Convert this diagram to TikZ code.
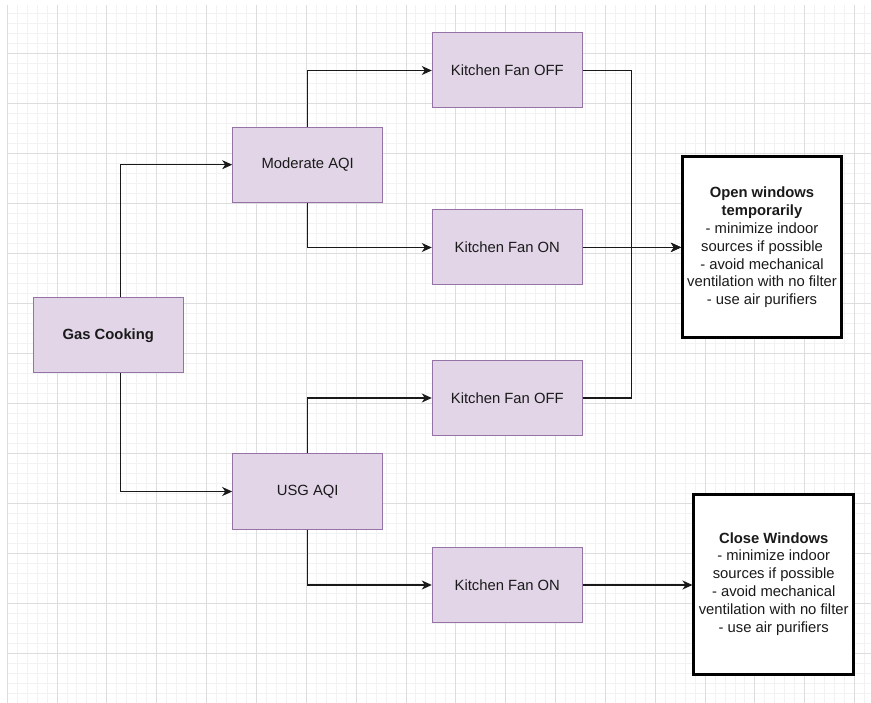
\documentclass[tikz,border=0pt]{standalone}
\usepackage{fontspec}
\setmainfont{Liberation Sans}
\usetikzlibrary{arrows.meta,calc}
\definecolor{boxfill}{HTML}{E1D5E7}
\definecolor{boxline}{HTML}{9673A6}
\definecolor{gridminor}{HTML}{F2F2F2}
\definecolor{gridmajor}{HTML}{DDDDDD}
\definecolor{txt}{HTML}{1A1A1A}
\tikzset{
  pbox/.style={draw=boxline, fill=boxfill, line width=1pt, minimum width=150pt, minimum height=75pt, inner sep=0pt, text=txt, font=\fontsize{14.8}{17.8}\selectfont},
  outbox/.style={draw=black, fill=white, line width=3pt, inner sep=0pt, align=center, text=txt, font=\fontsize{14.8}{17.9}\selectfont},
  arr/.style={draw=black!90, line width=1.3pt, -{Stealth[length=10pt,width=9pt,inset=3pt]}}
}
\begin{document}
\begin{tikzpicture}[x=1pt,y=-1pt]
\useasboundingbox (0,0) rectangle (871,703);
\fill[white] (0,0) rectangle (871,703);
% grid
\begin{scope}
\clip (7,6) rectangle (871,702.5);
\foreach \i in {0,...,90} {
  \draw[gridminor, line width=0.9pt] ({7.15+9.97*\i},0) -- ({7.15+9.97*\i},703);
}
\foreach \j in {0,...,70} {
  \draw[gridminor, line width=0.9pt] (0,{3+10*\j}) -- (871,{3+10*\j});
}
\foreach \i in {0,...,18} {
  \draw[gridmajor, line width=0.9pt] ({7.15+49.85*\i},0) -- ({7.15+49.85*\i},703);
}
\foreach \j in {0,...,14} {
  \draw[gridmajor, line width=0.9pt] (0,{3+50*\j}) -- (871,{3+50*\j});
}
\end{scope}
% nodes
\node[pbox, font=\fontsize{14.8}{17.8}\selectfont\bfseries] (gas) at (108.3,335.5) {Gas Cooking};
\node[pbox] (mod) at (307.7,164.7) {Moderate AQI};
\node[pbox] (usg) at (307.7,491.5) {USG AQI};
\node[pbox] (f1) at (507.3,70.5) {Kitchen Fan OFF};
\node[pbox] (f2) at (507.3,247.5) {Kitchen Fan ON};
\node[pbox] (f3) at (507.3,398) {Kitchen Fan OFF};
\node[pbox] (f4) at (507.3,585) {Kitchen Fan ON};
\node[outbox, minimum width=159pt, minimum height=181pt] (open) at (762,247.3)
  {\textbf{Open windows}\\\textbf{temporarily}\\- minimize indoor\\sources if possible\\- avoid mechanical\\ventilation with no filter\\- use air purifiers};
\node[outbox, minimum width=159.5pt, minimum height=180pt] (close) at (773.7,584)
  {\textbf{Close Windows}\\- minimize indoor\\sources if possible\\- avoid mechanical\\ventilation with no filter\\- use air purifiers};
% helper coordinates
\coordinate (gx) at (120.7,0);
\coordinate (mx) at (631.7,0);
% connectors
\draw[arr] (gas.north -| gx) |- (mod.west);
\draw[arr] (gas.south -| gx) |- (usg.west);
\draw[arr] (mod.north) |- (f1.west);
\draw[arr] (mod.south) |- (f2.west);
\draw[arr] (usg.north) |- (f3.west);
\draw[arr] (usg.south) |- (f4.west);
\draw[arr] (f1.east) -| (mx |- open.west) -- (open.west);
\draw[arr] (f3.east) -| (mx |- open.west) -- (open.west);
\draw[arr] (f2.east) -- (f2.east -| open.west);
\draw[arr] (f4.east) -- (f4.east -| close.west);
\end{tikzpicture}
\end{document}
